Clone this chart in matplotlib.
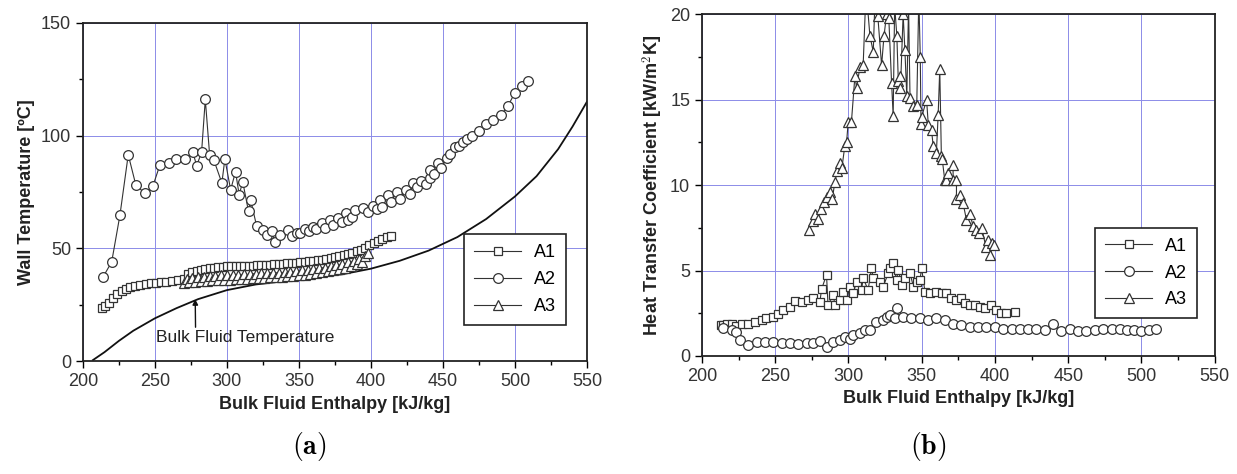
import numpy as np
import matplotlib.pyplot as plt
from matplotlib.ticker import MultipleLocator

plt.rcParams['font.family'] = ['Liberation Sans', 'DejaVu Sans']
plt.rcParams['mathtext.fontset'] = 'cm'

# ---- (a) wall temperature vs bulk enthalpy: (enthalpy kJ/kg, T degC)
bulk_T = np.array([
    (207, 0.5), (215, 4), (225, 9), (235, 13.5), (250, 19), (265, 23.5), (280, 27.5),
    (300, 31.5), (320, 34), (340, 35.5), (360, 37), (380, 38.5), (400, 41), (420, 44.5),
    (440, 49), (460, 55), (480, 63), (500, 73), (515, 82), (530, 94), (540, 104), (550, 115)])

a1_wall = np.array([
    (213, 23.5), (215.5, 24.5), (218, 26), (221, 28), (224, 30), (227, 31), (230, 32), (233, 32.8),
    (236.5, 33.5), (240, 33.8), (243.5, 34.2), (247, 34.5), (250.5, 34.8), (254, 35), (258, 35.3),
    (262, 35.6), (266, 36), (270, 36.3), (273, 38.5), (276, 39.5), (279, 40), (282, 40.5), (285, 41),
    (288, 41.3), (291, 41.5), (294, 41.7), (297, 41.8), (300, 42), (303, 42), (306, 42.1), (309, 42.2),
    (312, 42.3), (315, 42.3), (318, 42.4), (321, 42.5), (324, 42.6), (327, 42.7), (330, 42.8),
    (333, 42.9), (336, 43), (339, 43.2), (342, 43.3), (345, 43.5), (348, 43.7), (351, 43.9),
    (354, 44.1), (357, 44.3), (360, 44.5), (363, 44.7), (366, 45), (369, 45.3), (372, 45.6),
    (375, 46), (378, 46.4), (381, 46.9), (384, 47.4), (387, 48), (390, 48.7), (393, 49.5),
    (396, 50.3), (399, 51.3), (402, 52.3), (405, 53.3), (408, 54.3), (411, 55), (414, 55.5)])

a2_wall = np.array([
    (214, 37.3), (220, 44), (225.7, 64.6), (231.5, 91.5), (236.8, 78), (243, 74.5), (248.6, 77.6),
    (253.5, 87), (259.7, 88), (265, 89.7), (271, 89.7), (276.4, 92.5), (279, 86.7), (282.4, 92.5),
    (285, 116), (288, 91.5), (291, 89), (296.5, 79), (298.6, 89.6), (302.6, 76), (306, 84),
    (308.5, 73.8), (311, 79.5), (315, 66.4), (316.5, 71.5), (320.6, 60), (325.4, 58), (328, 56),
    (331, 57.5), (333.5, 53), (337, 56), (342.7, 58), (345, 55.5), (348.4, 56.6), (351, 57),
    (354, 58.8), (357, 57.5), (360, 59.5), (362, 58.5), (365.8, 61.3), (368, 59), (371.5, 62.6),
    (374, 60.5), (377, 63.4), (380, 61.5), (383, 65.7), (384, 62.6), (387, 64), (389, 67),
    (394.6, 68), (398, 66), (401.5, 69), (404, 67.5), (406.5, 71.5), (407.5, 68.4), (411.8, 73.7),
    (414, 70.5), (417.8, 75), (420, 72), (424.5, 76), (427, 74), (429, 79), (432, 77), (435, 80),
    (438, 78.5), (441, 81), (441, 84.7), (444, 83), (446.5, 87.8), (449, 85.5), (452.5, 90),
    (455, 92), (458.3, 95), (461, 95.5), (464, 97), (467, 98.5), (470, 100), (475, 102),
    (480, 105), (485, 107), (490, 109), (495, 113), (500, 119), (505, 122), (509, 124)])

a3_wall = np.array([
    (270, 34.8), (272, 36.5), (274, 35.0), (276, 36.8), (278, 35.3), (280, 37.2), (282, 35.5),
    (284, 37.5), (286, 35.6), (288, 37.6), (290, 35.8), (292, 37.8), (294, 36.0), (296, 38.0),
    (298, 36.1), (300, 38.1), (302, 36.2), (304, 38.2), (306, 36.3), (308, 38.3), (310, 36.4),
    (312, 38.5), (314, 36.6), (316, 38.6), (318, 36.7), (320, 38.7), (322, 36.8), (324, 38.9),
    (326, 37.0), (328, 39.0), (330, 37.1), (332, 39.2), (334, 37.3), (336, 39.3), (338, 37.4),
    (340, 39.5), (342, 37.6), (344, 39.7), (346, 37.8), (348, 39.9), (350, 38.0), (352, 40.2),
    (354, 38.3), (356, 40.5), (358, 38.6), (360, 40.8), (362, 39.0), (364, 41.1), (366, 39.4),
    (368, 41.5), (370, 39.8), (372, 42.0), (374, 40.3), (376, 42.5), (378, 40.8), (380, 43.1),
    (382, 41.4), (384, 43.8), (386, 42.1), (388, 44.6), (390, 42.9), (392, 45.5), (394, 43.8),
    (396, 46.5), (398, 48.0)])

# ---- (b) heat transfer coefficient vs bulk enthalpy: (enthalpy, kW/m2K)
a1_htc = np.array([
    (213, 1.8), (214.6, 1.82), (217, 1.9), (220.2, 1.87), (223, 1.75), (227, 1.87), (231.5, 1.9),
    (236, 2.0), (240.7, 2.1), (244, 2.2), (248.6, 2.3), (252, 2.46), (255.5, 2.7), (260, 2.89),
    (263.4, 3.24), (268, 3.18), (272.5, 3.3), (275.9, 3.38), (280.5, 3.18), (281.6, 3.9),
    (285, 4.75), (286, 3.0), (289.6, 3.57), (290.7, 3.0), (294, 3.28), (296.4, 3.77), (298.7, 3.28),
    (301, 4.06), (303.2, 3.67), (305.5, 4.35), (308.9, 3.87), (310, 4.55), (313.4, 3.87),
    (315.7, 5.14), (316.9, 4.55), (321.4, 4.35), (323.7, 4.06), (327.1, 4.84), (328.3, 5.14),
    (330.5, 5.43), (332.8, 4.45), (334, 5.04), (336.3, 4.16), (338.6, 4.55), (342, 4.84),
    (344.3, 4.06), (346.6, 4.35), (348.8, 4.45), (349.9, 5.14), (352.2, 3.77), (355.5, 3.67),
    (360, 3.77), (363.5, 3.67), (366.9, 3.67), (370.3, 3.38), (373.7, 3.28), (377.1, 3.38),
    (379.4, 3.1), (382.8, 3.0), (386.2, 3.0), (389.6, 2.89), (393, 2.79), (397.6, 3.0), (401, 2.7),
    (404.4, 2.5), (407.8, 2.5), (413.5, 2.6)])

a2_htc = np.array([
    (214.6, 1.62), (220.2, 1.52), (223, 1.4), (226, 0.94), (231.5, 0.64), (237.3, 0.84), (243, 0.84),
    (248.6, 0.84), (254.4, 0.74), (260, 0.74), (265.7, 0.7), (271.4, 0.74), (276, 0.74), (280.5, 0.9),
    (285, 0.55), (289.6, 0.84), (294, 0.94), (297.5, 1.09), (300.9, 1.0), (303.2, 1.23),
    (307.8, 1.33), (311.1, 1.52), (314.6, 1.52), (319.1, 2.0), (323.7, 2.1), (326, 2.3), (328.3, 2.4),
    (331.7, 2.2), (332.8, 2.8), (337.3, 2.3), (343, 2.2), (348.8, 2.2), (354.4, 2.1), (360, 2.2),
    (365.8, 2.1), (371.3, 1.9), (377.1, 1.82), (382.8, 1.72), (388.5, 1.72), (394.2, 1.72),
    (400, 1.68), (405.6, 1.6), (411.3, 1.6), (417, 1.56), (422.6, 1.56), (428.3, 1.56), (434, 1.52),
    (439.7, 1.87), (445.4, 1.48), (451, 1.56), (456.7, 1.48), (462.4, 1.48), (468, 1.52),
    (474, 1.55), (480, 1.6), (485, 1.55), (490, 1.5), (495, 1.5), (500, 1.45), (505, 1.5), (510, 1.6)])

a3_htc = np.array([
    (273, 7.4), (275.5, 7.9), (277, 8.3), (279, 8.0), (281, 8.6), (283, 9.0), (285, 9.3),
    (287.3, 9.6), (289, 9.2), (290.7, 10.2), (292.3, 10.8), (294, 11.3), (295.5, 11.0),
    (297.5, 12.3), (298.7, 12.5), (299.8, 13.7), (302, 13.7), (304.4, 16.4), (305.5, 15.7),
    (307.8, 16.9), (310, 17.0), (312, 21.5), (314.6, 18.75), (316.9, 17.8), (318.5, 22), (320, 19.9),
    (322.6, 17.0), (324.2, 18.7), (326, 20), (327.5, 19.8), (329.4, 16.0), (330.5, 14.05),
    (331.5, 20.5), (333, 18.75), (334, 16.1), (335, 16.4), (335.5, 15.7), (337.3, 20.0),
    (338.5, 17.9), (339.8, 15.2), (341, 20.5), (342, 15.1), (344.3, 14.6), (346.6, 14.7), (348, 21),
    (349, 17.5), (349.5, 13.6), (350, 14.0), (353.3, 15.0), (354.5, 13.5), (356.7, 13.2),
    (357.8, 12.3), (360, 11.9), (361.2, 14.1), (362.3, 16.8), (363.4, 11.7), (364, 11.5),
    (365.7, 10.3), (366.8, 10.3), (367.8, 10.7), (371.3, 11.2), (371.5, 10.3), (373.7, 10.3),
    (373.7, 9.2), (375.8, 9.4), (378.2, 8.95), (380.5, 7.97), (383, 8.3), (385, 7.6), (387, 7.4),
    (389, 7.2), (391, 7.5), (393.7, 6.4), (395, 6.8), (396.5, 5.9), (397.8, 6.6), (399, 6.5)])

series_names = ['A1', 'A2', 'A3']
markers = ['s', 'o', '^']
msizes = [6.2, 7, 7.5]
ink = '#333333'
gridc = '#8c8ce8'

fig = plt.figure(figsize=(12.37, 4.74), dpi=100)
ax1 = fig.add_axes([0.067, 0.238, 0.4075, 0.714])
ax2 = fig.add_axes([0.5675, 0.249, 0.4145, 0.721])


def style(ax, ymax, ystep, yminor):
    ax.set_xlim(200, 550)
    ax.set_ylim(0, ymax)
    ax.xaxis.set_major_locator(MultipleLocator(50))
    ax.xaxis.set_minor_locator(MultipleLocator(25))
    ax.yaxis.set_major_locator(MultipleLocator(ystep))
    ax.yaxis.set_minor_locator(MultipleLocator(yminor))
    ax.grid(True, which='major', color=gridc, lw=0.7)
    ax.set_axisbelow(True)
    ax.tick_params(which='major', direction='out', length=5, width=1, labelsize=13,
                   labelcolor=ink, top=False, right=False)
    ax.tick_params(which='minor', direction='out', length=3, width=1, top=False, right=False)
    for s in ax.spines.values():
        s.set_linewidth(1.3)
        s.set_color('#222222')
    ax.set_xlabel('Bulk Fluid Enthalpy [kJ/kg]', fontsize=13, fontweight='bold', color='#222222')


def draw(ax, data_list):
    for d, name, m, ms in zip(data_list, series_names, markers, msizes):
        ax.plot(d[:, 0], d[:, 1], color=ink, lw=0.8, marker=m, ms=ms, mfc='white',
                mec=ink, mew=0.9, label=name)


def legend(ax, right, bottom):
    leg = ax.legend(loc='lower right', bbox_to_anchor=(right, bottom), fontsize=13,
                    frameon=True, fancybox=False, edgecolor='#222222', borderaxespad=0,
                    handlelength=2.6, labelspacing=0.55, borderpad=0.55, handletextpad=0.7,
                    framealpha=1)
    leg.get_frame().set_linewidth(1.2)


style(ax1, 150, 50, 25)
ax1.plot(bulk_T[:, 0], bulk_T[:, 1], color='#111111', lw=1.3)
draw(ax1, [a1_wall, a2_wall, a3_wall])
ax1.set_ylabel('Wall Temperature [ºC]', fontsize=13, fontweight='bold', color='#222222')
ax1.annotate('Bulk Fluid Temperature', xy=(278, 27.5), xytext=(251, 10.5),
             fontsize=12.5, color='#222222', va='center', ha='left',
             arrowprops=dict(arrowstyle='-|>', color='#111111', lw=1, mutation_scale=8,
                             shrinkA=0, shrinkB=0, relpos=(0.22, 1.0)))
legend(ax1, 0.958, 0.107)

style(ax2, 20, 5, 2.5)
draw(ax2, [a1_htc, a2_htc, a3_htc])
ax2.set_ylabel('Heat Transfer Coefficient [kW/m$^\\mathbf{2}$K]', fontsize=13,
               fontweight='bold', color='#222222')
legend(ax2, 0.965, 0.11)

fig.text(0.25, 0.057, r'$\mathbf{(a)}$', fontsize=20, ha='center', va='center')
fig.text(0.75, 0.057, r'$\mathbf{(b)}$', fontsize=20, ha='center', va='center')

fig.savefig('out.png', dpi=100)
